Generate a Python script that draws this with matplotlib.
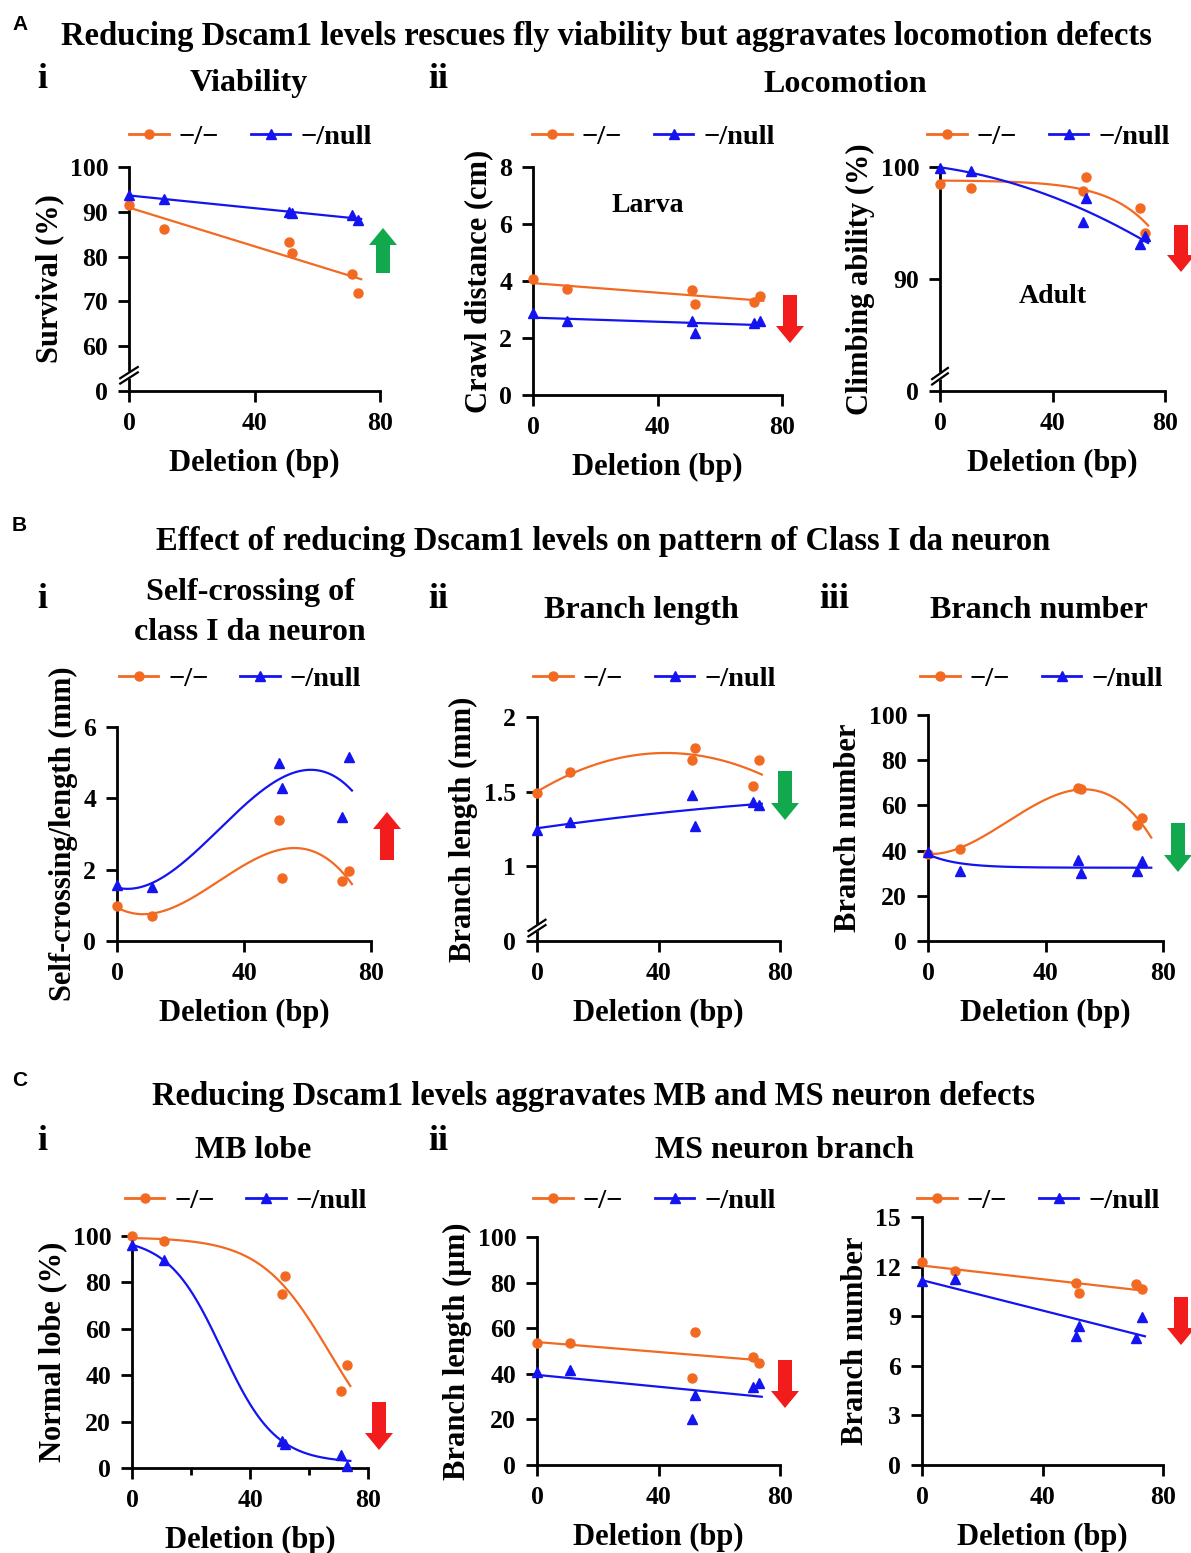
import matplotlib
matplotlib.use("Agg")
import matplotlib.pyplot as plt
import numpy as np
from matplotlib.lines import Line2D
from matplotlib.patches import FancyArrow

plt.rcParams['font.family'] = ['Liberation Serif', 'DejaVu Serif']
plt.rcParams['font.weight'] = 'bold'
plt.rcParams['axes.labelweight'] = 'bold'

# deletion sizes (bp) shared by every panel
deletion = np.array([0, 11, 51, 52, 71, 73])

# A  viability / locomotion
survival_hom = [91.6, 86.2, 83.3, 80.8, 76.2, 71.8]
survival_null = [93.8, 92.8, 89.9, 89.7, 89.2, 88.2]
crawl_hom = [4.06, 3.71, 3.67, 3.21, 3.26, 3.48]
crawl_null = [2.87, 2.58, 2.60, 2.19, 2.52, 2.60]
climb_hom = [98.5, 98.1, 97.9, 99.1, 96.3, 94.1]
climb_null = [99.9, 99.6, 95.1, 97.2, 93.15, 93.8]

# B  class I da neuron
selfcross_hom = [0.97, 0.71, 3.40, 1.77, 1.67, 1.95]
selfcross_null = [1.56, 1.51, 5.00, 4.30, 3.48, 5.16]
dalength_hom = [1.49, 1.63, 1.71, 1.79, 1.54, 1.715]
dalength_null = [1.245, 1.30, 1.476, 1.27, 1.432, 1.41]
danumber_hom = [38.7, 40.9, 67.5, 67.2, 51.2, 54.5]
danumber_null = [39.4, 31.1, 35.9, 30.1, 30.8, 35.2]

# C  MB / MS neurons
lobe_hom = [100.0, 98.0, 75.1, 82.6, 33.1, 44.2]
lobe_null = [96.0, 89.5, 11.5, 10.4, 5.7, 1.0]
mslength_hom = [53.4, 53.5, 38.1, 58.5, 47.4, 44.6]
mslength_null = [40.6, 41.8, 20.3, 30.9, 34.2, 35.9]
msnumber_hom = [12.3, 11.73, 11.03, 10.43, 10.93, 10.63]
msnumber_null = [11.13, 11.23, 7.82, 8.42, 7.68, 8.96]

genotypes = ['\u2212/\u2212', '\u2212/null']
ORANGE = '#f26a21'
BLUE = '#1414f0'
RED = '#f21c1c'
GREEN = '#12a84e'

W, H = 1191, 1553
fig = plt.figure(figsize=(W / 100, H / 100), dpi=100)


def fit(x, y, kind, xs):
    """least-squares trend curve through one genotype's points"""
    y = np.asarray(y, float)
    if isinstance(kind, int):
        return np.polyval(np.polyfit(x, y, kind), xs)
    if kind.startswith('logistic'):
        kmax = 0.07 if kind == 'logistic_soft' else 0.12
        grid = [(a, k) for a in np.linspace(0, 120, 241) for k in np.linspace(0.02, kmax, 21)]
        basis = lambda t, a, k: 1 / (1 + np.exp(k * (t - a)))
    else:  # exponential plateau
        grid = [(0, k) for k in np.linspace(0.005, 0.1, 60)]
        basis = lambda t, a, k: np.exp(-k * t)
    free_base = kind != 'logistic0'
    best = None
    for a, k in grid:
        cols = [basis(x, a, k)]
        if free_base:
            cols.insert(0, np.ones(len(x)))
        A = np.column_stack(cols)
        coef = np.linalg.lstsq(A, y, rcond=None)[0]
        err = np.sum((A @ coef - y) ** 2)
        if best is None or err < best[0]:
            best = (err, a, k, coef)
    _, a, k, coef = best
    if free_base:
        return coef[0] + coef[1] * basis(xs, a, k)
    return coef[0] * basis(xs, a, k)


def add_ax(l, r, t, b):
    return fig.add_axes([l / W, 1 - b / H, (r - l) / W, (b - t) / H])


def panel(box, hom, null, kinds, ylim, yticks, ylabel, yticklabels=None,
          xend=74, brk=None, xlabelpad=10, legend_y=None):
    ax = add_ax(*box)
    xs = np.linspace(0, xend, 200)
    for vals, kind, col, mk, ms in [(hom, kinds[0], ORANGE, 'o', 6.5),
                                    (null, kinds[1], BLUE, '^', 7)]:
        ax.plot(xs, fit(deletion, vals, kind, xs), color=col, lw=1.6, clip_on=False)
        ax.plot(deletion, vals, mk, color=col, ms=ms, clip_on=False, zorder=5)
    ax.set_xlim(0, 80)
    ax.set_ylim(*ylim)
    ax.set_xticks([0, 40, 80])
    ax.set_yticks(yticks)
    if yticklabels is not None:
        ax.set_yticklabels(yticklabels)
    for s in ['top', 'right']:
        ax.spines[s].set_visible(False)
    for s in ['left', 'bottom']:
        ax.spines[s].set_linewidth(2)
    ax.tick_params(width=2, length=8, labelsize=18.5, pad=7)
    for lab in ax.get_xticklabels() + ax.get_yticklabels():
        lab.set_fontweight('bold')
    ax.set_xlabel('Deletion (bp)', fontsize=22, labelpad=xlabelpad)
    ax.set_ylabel(ylabel, fontsize=22, labelpad=4)
    handles = [Line2D([], [], color=ORANGE, marker='o', ms=6.5, lw=2),
               Line2D([], [], color=BLUE, marker='^', ms=7, lw=2)]
    cx = (box[0] + box[1]) / 2 - 4
    ax.legend(handles, genotypes, ncol=2, frameon=False, loc='center',
              bbox_to_anchor=(cx / W, 1 - legend_y / H),
              bbox_transform=fig.transFigure, handlelength=1.4,
              handletextpad=0.35, columnspacing=1.1, borderaxespad=0,
              prop={'weight': 'bold', 'size': 20.5})
    if brk is not None:
        d = 0.025
        ax.plot([-0.03, 0.03], [brk - 0.012, brk + 0.012], color='white', lw=5,
                transform=ax.transAxes, clip_on=False, zorder=6)
        for off in (-0.012, 0.012):
            ax.plot([-0.035, 0.035], [brk + off - d, brk + off + d], color='black',
                    lw=1.6, transform=ax.transAxes, clip_on=False, zorder=7)
    return ax


def arrow_px(x, y_tail, y_tip, color):
    fig.add_artist(FancyArrow(x / 100, (H - y_tail) / 100, 0, (y_tail - y_tip) / 100,
                              width=0.14, head_width=0.28, head_length=0.17,
                              length_includes_head=True, color=color, lw=0,
                              transform=fig.dpi_scale_trans))


def ftext(x, y, s, size, ha='center', family=None):
    kw = {}
    if family:
        kw['family'] = family
    fig.text(x / W, 1 - y / H, s, fontsize=size, fontweight='bold', ha=ha,
             va='center', **kw)


# ---- row A
panel((129, 380, 167, 391), survival_hom, survival_null, (1, 1), (50, 100),
      [50, 60, 70, 80, 90, 100], 'Survival (%)',
      ['0', '60', '70', '80', '90', '100'], brk=0.07, legend_y=137)
ax = panel((533, 782, 167, 395), crawl_hom, crawl_null, (1, 1), (0, 8),
           [0, 2, 4, 6, 8], 'Crawl distance (cm)', legend_y=137)
ax.text(0.46, 0.83, 'Larva', transform=ax.transAxes, fontsize=20,
        fontweight='bold', ha='center', va='center')
ax = panel((940, 1165, 167, 391), climb_hom, climb_null, ('logistic_soft', 2),
           (80, 100), [80, 90, 100], 'Climbing ability (%)', ['0', '90', '100'],
           brk=0.066, legend_y=137)
ax.text(0.50, 0.42, 'Adult', transform=ax.transAxes, fontsize=20,
        fontweight='bold', ha='center', va='center')

# ---- row B
panel((117, 371, 727, 941), selfcross_hom, selfcross_null, (3, 3), (0, 6),
      [0, 2, 4, 6], 'Self-crossing/length (mm)', legend_y=679)
panel((537, 780, 717, 941), dalength_hom, dalength_null, (2, 2), (0.5, 2),
      [0.5, 1, 1.5, 2], 'Branch length (mm)', ['0', '1', '1.5', '2'],
      brk=0.058, legend_y=679)
panel((928, 1163, 715, 941), danumber_hom, danumber_null, (3, 'exp'), (0, 100),
      [0, 20, 40, 60, 80, 100], 'Branch number', xend=76, legend_y=679)

# ---- row C
ax = panel((132, 368, 1236, 1468), lobe_hom, lobe_null, ('logistic0', 'logistic'),
           (0, 100), [0, 20, 40, 60, 80, 100], 'Normal lobe (%)', legend_y=1201)
ax.set_xticks([20, 60], minor=True)
ax.tick_params(which='minor', width=2, length=5)
panel((537, 780, 1237, 1465), mslength_hom, mslength_null, (1, 1), (0, 100),
      [0, 20, 40, 60, 80, 100], 'Branch length (\u00b5m)', xlabelpad=10,
      legend_y=1201)
panel((922, 1163, 1217, 1465), msnumber_hom, msnumber_null, (1, 1), (0, 15),
      [0, 3, 6, 9, 12, 15], 'Branch number', xlabelpad=10, legend_y=1201)

# ---- arrows (effect direction)
arrow_px(383, 273, 228, GREEN)
arrow_px(790, 295, 343, RED)
arrow_px(1181, 225, 272, RED)
arrow_px(387, 860, 812, RED)
arrow_px(785, 771, 820, GREEN)
arrow_px(1178, 823, 872, GREEN)
arrow_px(379, 1402, 1450, RED)
arrow_px(785, 1360, 1408, RED)
arrow_px(1181, 1297, 1345, RED)

# ---- headings
sans = ['Liberation Sans', 'DejaVu Sans']
ftext(12, 24, 'A', 15, ha='left', family=sans)
ftext(606, 37, 'Reducing Dscam1 levels rescues fly viability but aggravates locomotion defects', 23.5)
ftext(42, 80, 'i', 26)
ftext(249, 84, 'Viability', 23)
ftext(438, 80, 'ii', 26)
ftext(845, 84, 'Locomotion', 23)

ftext(12, 525, 'B', 15, ha='left', family=sans)
ftext(603, 541, 'Effect of reducing Dscam1 levels on pattern of Class I da neuron', 23.5)
ftext(42, 599, 'i', 26)
ftext(250, 593, 'Self-crossing of', 23)
ftext(250, 633, 'class I da neuron', 23)
ftext(438, 599, 'ii', 26)
ftext(641, 611, 'Branch length', 23)
ftext(834, 599, 'iii', 26)
ftext(1039, 611, 'Branch number', 23)

ftext(12, 1080, 'C', 15, ha='left', family=sans)
ftext(593, 1097, 'Reducing Dscam1 levels aggravates MB and MS neuron defects', 23.5)
ftext(42, 1142, 'i', 26)
ftext(253, 1150, 'MB lobe', 23)
ftext(438, 1142, 'ii', 26)
ftext(785, 1150, 'MS neuron branch', 23)

fig.savefig('out.png', dpi=100)
